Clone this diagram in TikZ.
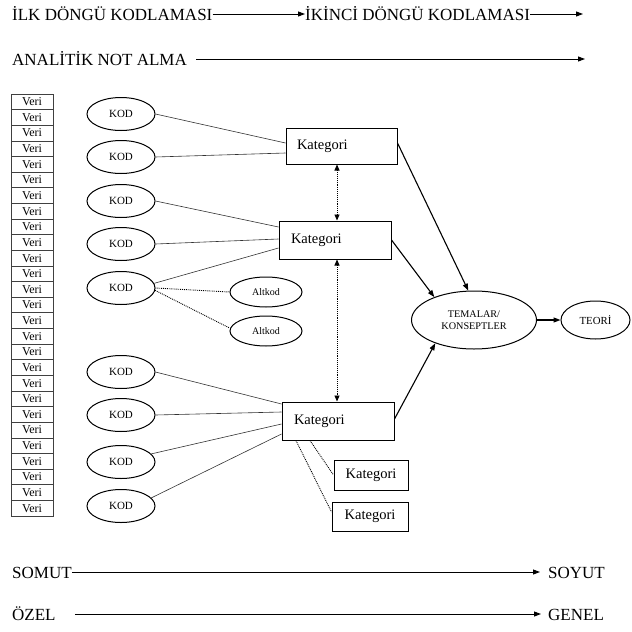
\documentclass[tikz,border=0pt]{standalone}
\usepackage{fontspec}
\setmainfont{Liberation Serif}
\usetikzlibrary{arrows.meta,shapes.geometric,calc}

\begin{document}
\begin{tikzpicture}[x=1pt,y=-1pt,
  tip/.style={-{Triangle[length=7pt,width=5pt]}},
  axis/.style={line width=0.9pt, tip},
  lbl/.style={anchor=base west, inner sep=0pt, font=\fontsize{17}{20}\selectfont},
  veri/.style={draw=black!75, line width=0.7pt, minimum width=42pt, minimum height=15.63pt, inner sep=0pt, font=\fontsize{12}{14}\selectfont},
  kod/.style={ellipse, draw, line width=1pt, minimum width=68pt, minimum height=33pt, inner sep=0pt, font=\fontsize{11}{13}\selectfont},
  altkod/.style={ellipse, draw, line width=1pt, minimum width=72pt, minimum height=30pt, inner sep=0pt, font=\fontsize{10}{12}\selectfont},
  katbox/.style={draw, line width=1pt, inner sep=0pt, font=\fontsize{14.5}{17}\selectfont},
  mainkat/.style={katbox, inner xsep=11pt, align=left},
  link/.style={line width=0.6pt, draw=black!80},
  dotlink/.style={line width=0.9pt, densely dotted},
  both/.style={dotlink, {Triangle[length=6pt,width=5pt]}-{Triangle[length=6pt,width=5pt]}},
  flow/.style={line width=1.1pt, tip},
]
\useasboundingbox (0,0) rectangle (632,632);

% data column
\foreach \i in {1,...,27}
  \node[veri] (v\i) at (32,{94+15.63*(\i-0.5)}) {Veri};

% codes
\foreach \n/\y in {1/114,2/157,3/201,4/244,5/288,6/372,7/415,8/462,9/506}
  \node[kod] (kod\n) at (121,\y) {KOD};

% sub-codes
\node[altkod] (alt1) at (266,292) {Altkod};
\node[altkod] (alt2) at (266,331) {Altkod};

% categories
\node[mainkat, minimum height=36pt, text width=89pt] (k1) at (341.5,146) {Kategori};
\node[mainkat, minimum height=38pt, text width=88pt, inner xsep=12pt] (k2) at (335,240) {Kategori};
\node[mainkat, minimum height=38pt, text width=88pt, inner xsep=12pt] (k3) at (338,421) {Kategori};
\node[katbox, minimum width=74pt, minimum height=30pt] (k4) at (371,475) {Kategori};
\node[katbox, minimum width=76pt, minimum height=29pt] (k5) at (370,516.5) {Kategori};

% themes and theory
\node[ellipse, draw, line width=1pt, minimum width=125pt, minimum height=58pt, inner sep=0pt,
      align=center, font=\fontsize{10.2}{11.5}\selectfont] (tem) at (474,320) {TEMALAR/\\KONSEPTLER};
\node[ellipse, draw, line width=1pt, minimum width=69pt, minimum height=38pt, inner sep=0pt,
      font=\fontsize{10.8}{13}\selectfont] (teori) at (595.5,320) {TEORİ};

% codes to categories
\draw[link] (kod1.east) -- ([yshift=3pt]k1.west);
\draw[link] (kod2.east) -- ([yshift=-7pt]k1.west);
\draw[link] (kod3.east) -- ([yshift=13pt]k2.west);
\draw[link] (kod4.east) -- ([yshift=1pt]k2.west);
\draw[link] (kod5.8) -- ([yshift=-8pt]k2.west);
\draw[dotlink] (kod5.east) -- (alt1.west);
\draw[dotlink] (kod5.-4) -- ([yshift=3pt]alt2.west);
\draw[link] (kod6.east) -- ([yshift=17pt]k3.west);
\draw[link] (kod7.east) -- ([yshift=9pt]k3.west);
\draw[link] (kod8.15) -- ([yshift=-3pt]k3.west);
\draw[link] (kod9.15) -- ([yshift=-13pt]k3.west);

% links between categories
\coordinate (ax) at (337,0);
\draw[both] (k1.south -| ax) -- (k2.north -| ax);
\draw[both] (k2.south -| ax) -- (k3.north -| ax);
\draw[dotlink] ([xshift=-28pt]k3.south) -- (k4.west);
\draw[dotlink] ([xshift=-42pt]k3.south) -- ([yshift=4.5pt]k5.west);

% categories to themes
\draw[flow] ([yshift=3pt]k1.east) -- (tem.101);
\draw[flow] (k2.east) -- (tem.150);
\draw[flow] ([yshift=2pt]k3.east) -- (tem.211);
\draw[flow] (tem.east) -- (teori.west);

% process axes
\node[lbl] (ilk) at (12,20) {İLK DÖNGÜ KODLAMASI};
\node[lbl] (ikinci) at (305,20) {İKİNCİ DÖNGÜ KODLAMASI};
\coordinate (e1) at (583,14);
\draw[axis] ([yshift=6pt]ilk.base east) -- ([yshift=6pt]ikinci.base west);
\draw[axis] ([yshift=6pt]ikinci.base east) -- (e1);

\node[lbl] (ana) at (12,65) {ANALİTİK NOT ALMA};
\coordinate (e2) at (585,59);
\draw[axis] ([xshift=9pt,yshift=6pt]ana.base east) -- (e2);

\node[lbl] (somut) at (12,578) {SOMUT};
\node[lbl] (soyut) at (548,578) {SOYUT};
\draw[axis] ([yshift=6pt]somut.base east) -- ([xshift=-8pt,yshift=6pt]soyut.base west);

\node[lbl] (ozel) at (12,620) {ÖZEL};
\node[lbl] (genel) at (548,620) {GENEL};
\draw[axis] ([xshift=19pt,yshift=6pt]ozel.base east) -- ([xshift=-7pt,yshift=6pt]genel.base west);
\end{tikzpicture}
\end{document}
